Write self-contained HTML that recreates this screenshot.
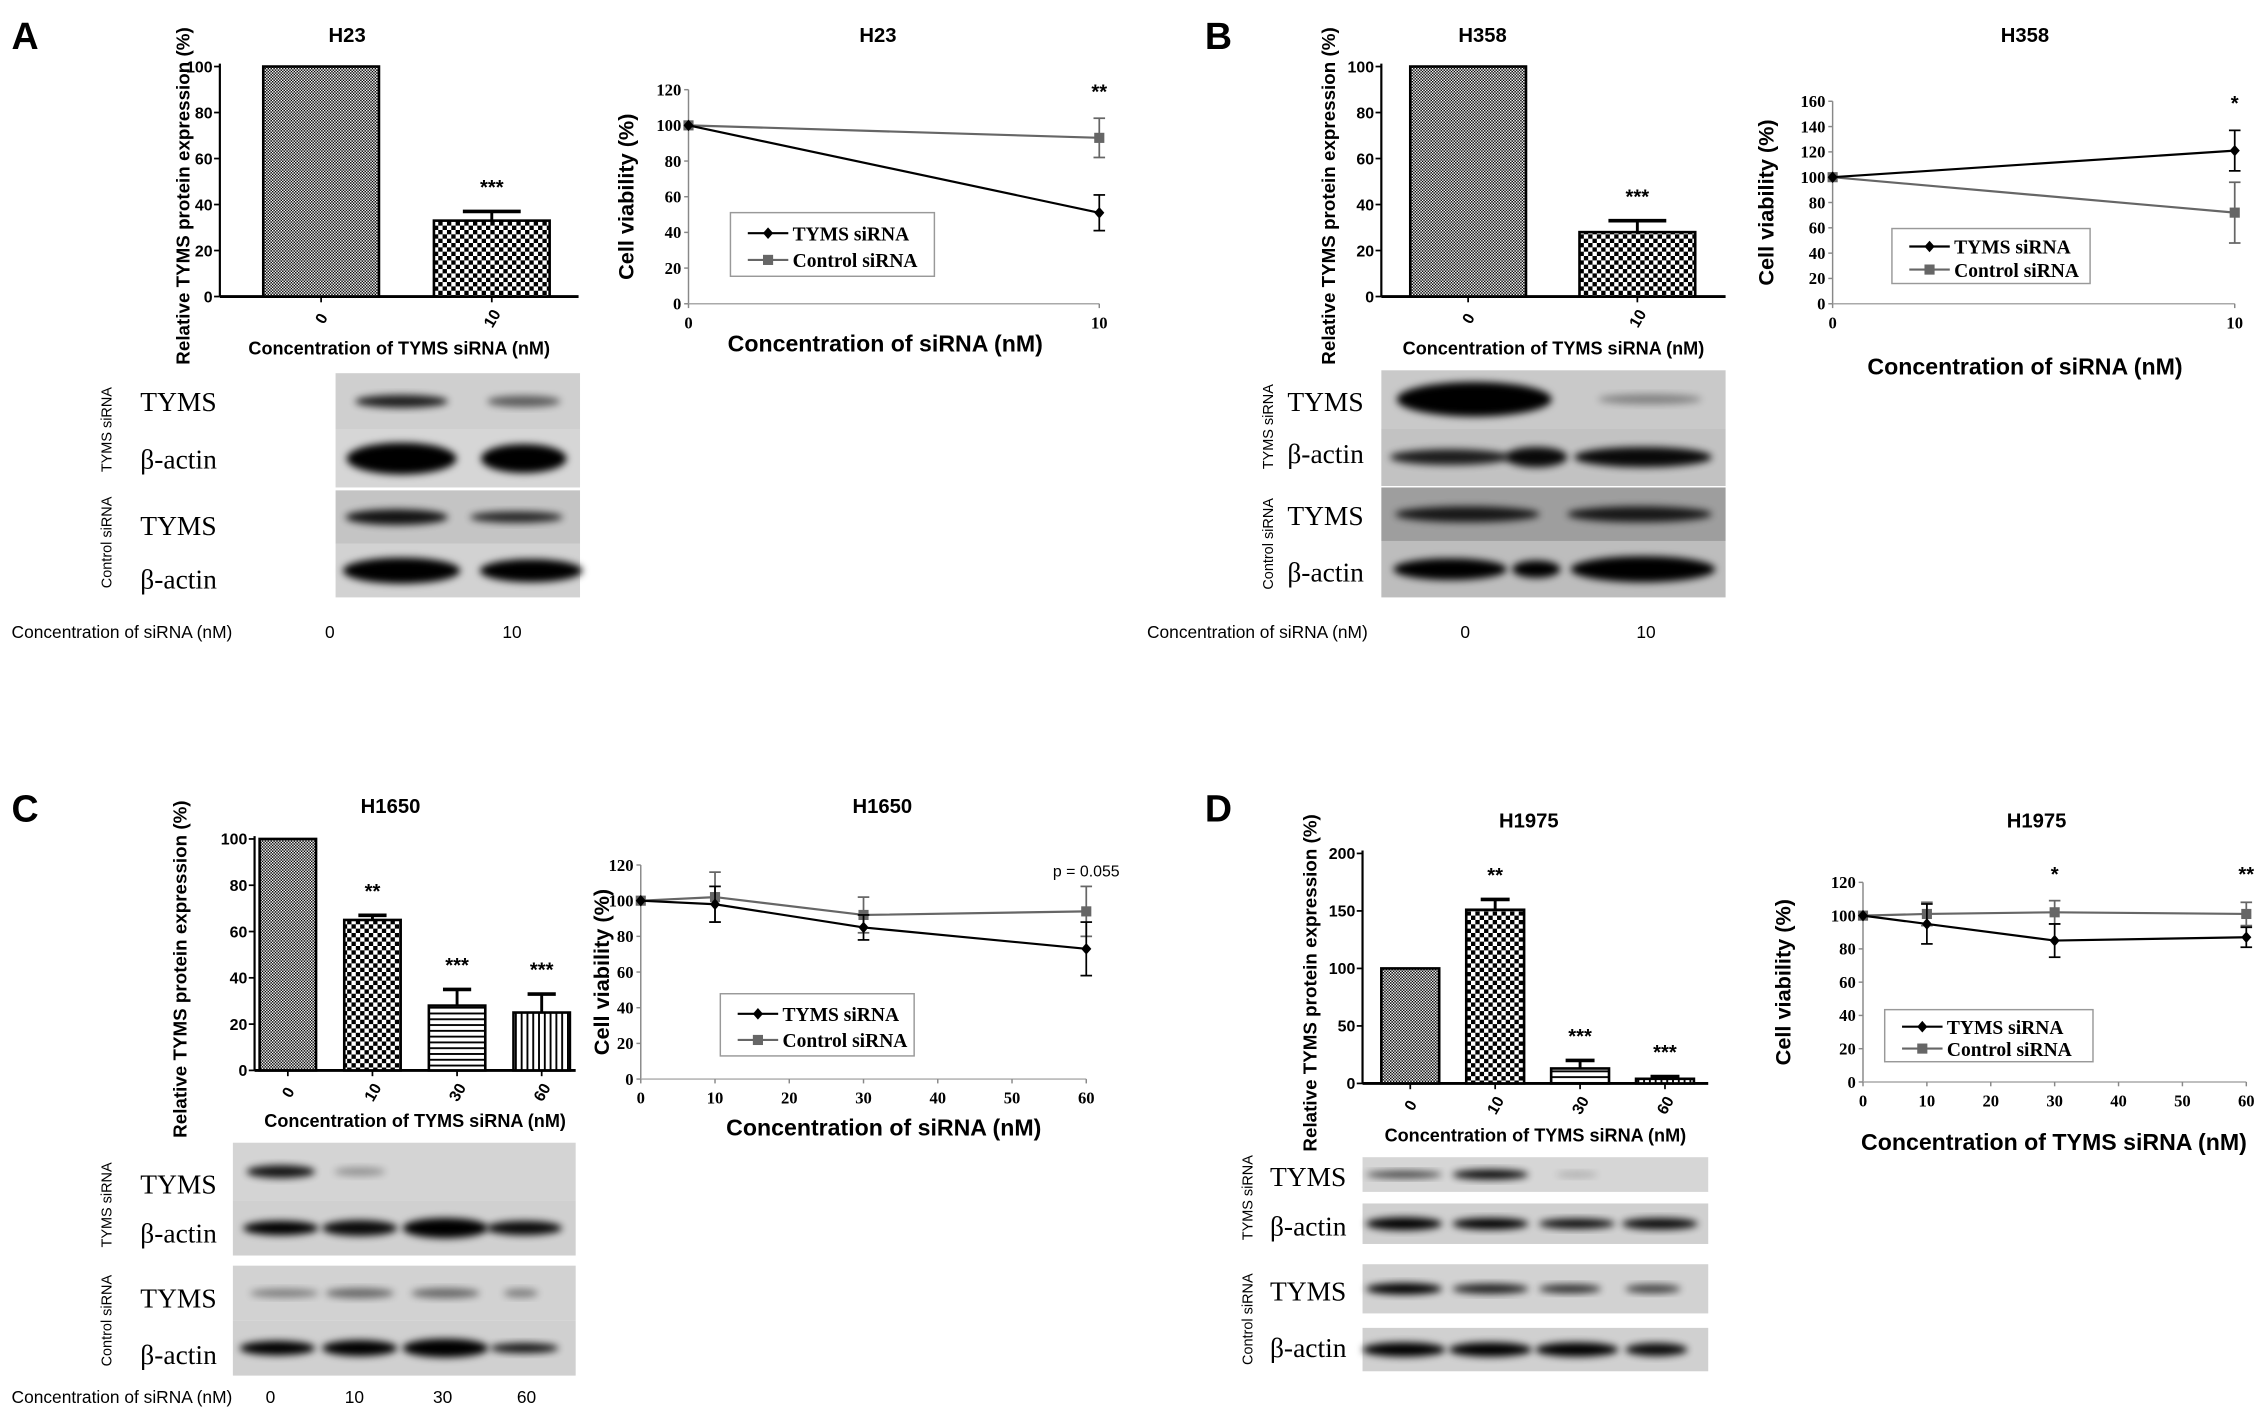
<!DOCTYPE html>
<html><head><meta charset="utf-8">
<style>
html,body{margin:0;padding:0;background:#fff;}
svg{display:block;}
.sans{font-family:"Liberation Sans",Arial,sans-serif;}
.serif{font-family:"Liberation Serif","Times New Roman",serif;}
</style></head>
<body>
<svg id="fig" width="2268" height="1419" viewBox="0 0 1568 981" preserveAspectRatio="none" xmlns="http://www.w3.org/2000/svg">
<defs>
<pattern id="pFine" width="2" height="2" patternUnits="userSpaceOnUse"><rect width="2" height="2" fill="#fff"/><rect width="1" height="1" fill="#000"/><rect x="1" y="1" width="1" height="1" fill="#000"/></pattern>
<pattern id="pCheck" width="6" height="6" patternUnits="userSpaceOnUse"><rect width="6" height="6" fill="#fff"/><rect width="3" height="3" fill="#000"/><rect x="3" y="3" width="3" height="3" fill="#000"/></pattern>
<pattern id="pHor" width="4" height="4" patternUnits="userSpaceOnUse"><rect width="4" height="4" fill="#fff"/><rect width="4" height="1.3" fill="#000"/></pattern>
<pattern id="pVer" width="4" height="4" patternUnits="userSpaceOnUse"><rect width="4" height="4" fill="#fff"/><rect width="1.3" height="4" fill="#000"/></pattern>
<filter id="blur" x="-20%" y="-50%" width="140%" height="200%"><feGaussianBlur stdDeviation="2.5"/></filter>
</defs>
</svg>
<script>
// ---- Panel A data ----
const A_barCats=['0','10'];
const A_barVals=[100,33];
const A_barErr=[0,4];
const A_barStars=['','***'];
const A_lineX=[0,10];
const A_tyms=[100,51];
const A_tymsErr=[0,10];
const A_ctrl=[100,93];
const A_ctrlErr=[0,11];
const A_lineStars=['','**'];
// ---- Panel B data ----
const B_barCats=['0','10'];
const B_barVals=[100,28];
const B_barErr=[0,5];
const B_barStars=['','***'];
const B_lineX=[0,10];
const B_tyms=[100,121];
const B_tymsErr=[0,16];
const B_ctrl=[100,72];
const B_ctrlErr=[0,24];
const B_lineStars=['','*'];
// ---- Panel C data ----
const C_barCats=['0','10','30','60'];
const C_barVals=[100,65,28,25];
const C_barErr=[0,2,7,8];
const C_barStars=['','**','***','***'];
const C_lineX=[0,10,30,60];
const C_tyms=[100,98,85,73];
const C_tymsErr=[1,10,7,15];
const C_ctrl=[100,102,92,94];
const C_ctrlErr=[1,14,10,14];
const C_lineStars=['','','','p = 0.055'];
// ---- Panel D data ----
const D_barCats=['0','10','30','60'];
const D_barVals=[100,151,13,4];
const D_barErr=[0,9,7,2];
const D_barStars=['','**','***','***'];
const D_lineX=[0,10,30,60];
const D_tyms=[100,95,85,87];
const D_tymsErr=[1,12,10,6];
const D_ctrl=[100,101,102,101];
const D_ctrlErr=[1,7,7,7];
const D_lineStars=['','','*','**'];

const svg=document.getElementById('fig');
const NS='http://www.w3.org/2000/svg';
function el(tag,attrs,parent,text){const e=document.createElementNS(NS,tag);for(const k in attrs)e.setAttribute(k,attrs[k]);if(text!==undefined)e.textContent=text;(parent||svg).appendChild(e);return e;}

function barChart(g,c){
  const ys=v=>c.y0-(v/c.ymax)*(c.y0-c.yTop);
  let ax=el('line',{x1:c.ax,y1:c.yTop-2,x2:c.ax,y2:c.y0,stroke:'#000','stroke-width':1.5},g);
  
  let bx=el('line',{x1:c.ax,y1:c.y0,x2:c.xEnd,y2:c.y0,stroke:'#000','stroke-width':2},g);
  
  for(let v=0;v<=c.ymax;v+=c.step){
    const y=ys(v);
    el('line',{x1:c.ax-4,y1:y,x2:c.ax,y2:y,stroke:'#000','stroke-width':1.2},g);
    let t=el('text',{x:c.ax-5,y:y+4,'text-anchor':'end','font-size':11,'font-weight':'bold',class:'sans'},g,String(v));
    
  }
  c.vals.forEach((v,i)=>{
    const cx=c.c0+i*c.sp, x=cx-c.bw/2, y=ys(v);
    if(c.errs[i]>0){
      const ye=ys(v+c.errs[i]);
      el('line',{x1:cx,y1:y,x2:cx,y2:ye,stroke:'#000','stroke-width':2},g);
      el('line',{x1:cx-c.bw/4,y1:ye,x2:cx+c.bw/4,y2:ye,stroke:'#000','stroke-width':2.5},g);
    }
    let r=el('rect',{x:x,y:y,width:c.bw,height:c.y0-y,fill:'url(#'+c.pats[i]+')',stroke:'#000','stroke-width':1.8},g);
    
    el('line',{x1:cx,y1:c.y0,x2:cx,y2:c.y0+4,stroke:'#000','stroke-width':1.2},g);
    let lt=el('text',{x:cx,y:c.y0+19,'text-anchor':'middle','font-size':11,'font-weight':'bold',class:'sans',transform:'rotate(-60 '+cx+' '+(c.y0+15)+')'},g,c.cats[i]);
    
    if(c.stars[i]){
      const ye=ys(v+c.errs[i]);
      let s=el('text',{x:cx,y:ye-12,'text-anchor':'middle','font-size':14,'font-weight':'bold',class:'sans'},g,c.stars[i]);
      
    }
  });
  let tt=el('text',{x:c.tx,y:c.ty,'text-anchor':'middle','font-size':14,'font-weight':'bold',class:'sans'},g,c.title);
  
  let yt=el('text',{x:0,y:0,'text-anchor':'middle','font-size':13,'font-weight':'bold',class:'sans',transform:'translate('+c.ytx+','+((c.yTop+c.y0)/2+10)+') rotate(-90)'},g,'Relative TYMS protein expression (%)');
  
  let xt=el('text',{x:(c.ax+c.xEnd)/2,y:c.xty,'text-anchor':'middle','font-size':12.5,'font-weight':'bold',class:'sans'},g,'Concentration of TYMS siRNA (nM)');
  
}

function lineChart(g,c){
  const xs=v=>c.ax+(v-0)/(c.xmax)*(c.xEndV-c.ax);
  const ys=v=>c.y0-(v/c.ymax)*(c.y0-c.yTop);
  let ax=el('line',{x1:c.ax,y1:c.yTop,x2:c.ax,y2:c.y0,stroke:'#888','stroke-width':1},g);
  
  let bx=el('line',{x1:c.ax,y1:c.y0,x2:c.xEndV,y2:c.y0,stroke:'#aaa','stroke-width':1},g);
  
  for(let v=0;v<=c.ymax;v+=20){
    const y=ys(v);
    el('line',{x1:c.ax-3,y1:y,x2:c.ax,y2:y,stroke:'#888','stroke-width':1},g);
    let t=el('text',{x:c.ax-5,y:y+4,'text-anchor':'end','font-size':11.5,'font-weight':'bold',class:'serif'},g,String(v));
    
  }
  c.ticks.forEach(v=>{
    const x=xs(v);
    el('line',{x1:x,y1:c.y0,x2:x,y2:c.y0+3,stroke:'#888','stroke-width':1},g);
    let t=el('text',{x:x,y:c.y0+17,'text-anchor':'middle','font-size':11.5,'font-weight':'bold',class:'serif'},g,String(v));
    
  });
  const series=[[c.ctrl,c.ctrlErr,'#666','sq','control-siRNA'],[c.tyms,c.tymsErr,'#000','di','tyms-siRNA']];
  series.forEach(([vals,errs,col,mk,nm])=>{
    let pts=vals.map((v,i)=>xs(c.xv[i])+','+ys(v)).join(' ');
    let pl=el('polyline',{points:pts,fill:'none',stroke:col,'stroke-width':1.5},g);
    
    vals.forEach((v,i)=>{
      const x=xs(c.xv[i]),y=ys(v);
      if(errs[i]>1){
        const y1=ys(v+errs[i]),y2=ys(v-errs[i]);
        el('line',{x1:x,y1:y1,x2:x,y2:y2,stroke:col,'stroke-width':1.2},g);
        el('line',{x1:x-4,y1:y1,x2:x+4,y2:y1,stroke:col,'stroke-width':1.2},g);
        el('line',{x1:x-4,y1:y2,x2:x+4,y2:y2,stroke:col,'stroke-width':1.2},g);
      }
      let m;
      if(mk==='sq')m=el('rect',{x:x-3.5,y:y-3.5,width:7,height:7,fill:col},g);
      else m=el('polygon',{points:(x)+','+(y-4)+' '+(x+3.5)+','+y+' '+x+','+(y+4)+' '+(x-3.5)+','+y,fill:col},g);
      
    });
  });
  c.stars.forEach((s,i)=>{
    if(!s)return;
    let t=el('text',{x:xs(c.xv[i]),y:c.starY,'text-anchor':'middle','font-size':s.length>3?11:14,'font-weight':s.length>3?'normal':'bold',class:'sans'},g,s);
    
  });
  const L=c.leg;
  let lg=el('g',{},g);
  el('rect',{x:L[0],y:L[1],width:L[2],height:L[3],fill:'#fff',stroke:'#999','stroke-width':1},lg);
  const ent=[['TYMS siRNA','#000','di'],['Control siRNA','#666','sq']];
  ent.forEach(([t,col,mk],i)=>{
    const y=L[1]+L[3]*(0.3+0.42*i)+1, x=L[0]+12;
    let e=el('g',{},lg);
    el('line',{x1:x,y1:y,x2:x+28,y2:y,stroke:col,'stroke-width':1.5},e);
    if(mk==='sq')el('rect',{x:x+10.5,y:y-3.5,width:7,height:7,fill:col},e);
    else el('polygon',{points:(x+14)+','+(y-4)+' '+(x+17.5)+','+y+' '+(x+14)+','+(y+4)+' '+(x+10.5)+','+y,fill:col},e);
    el('text',{x:x+31,y:y+5,'font-size':13.5,'font-weight':'bold',class:'serif'},e,t);
  });
  let tt=el('text',{x:c.tx,y:c.ty,'text-anchor':'middle','font-size':14,'font-weight':'bold',class:'sans'},g,c.title);
  
  let yt=el('text',{x:0,y:0,'text-anchor':'middle','font-size':15,'font-weight':'bold',class:'sans',transform:'translate('+c.ytx+','+((c.yTop+c.y0)/2)+') rotate(-90)'},g,'Cell viability (%)');
  
  let xt=el('text',{x:c.xtx,y:c.xty,'text-anchor':'middle','font-size':16,'font-weight':'bold',class:'sans'},g,c.xtitle);
  
}

function blot(g,x,y,w,h,bg,bands,name){
  let b=el('g',{},g);
  el('rect',{x:x,y:y,width:w,height:h,fill:bg},b);
  bands.forEach(([cx,bw,bh,op])=>{
    el('ellipse',{cx:x+cx*w,cy:y+h/2,rx:bw*w/2,ry:bh/2,fill:'#000',opacity:op,filter:'url(#blur)'},b);
  });
}
function blotLabels(g,lx,rows,vx,vlabels,bottom){
  rows.forEach(([t,y])=>{
    let e=el('text',{x:lx,y:y,'font-size':19,class:'serif'},g,t);
    
  });
  vlabels.forEach(([t,cy])=>{
    let e=el('text',{x:0,y:0,'text-anchor':'middle','font-size':10,class:'sans',transform:'translate('+vx+','+cy+') rotate(-90)'},g,t);
    
  });
  if(bottom){
    let e=el('text',{x:bottom[0],y:bottom[1],'font-size':12,class:'sans'},g,'Concentration of siRNA (nM)');
    
    bottom[2].forEach(([t,x])=>{let n=el('text',{x:x,y:bottom[1],'text-anchor':'middle','font-size':12,class:'sans'},g,t);
      });
  }
}
function panelLetter(t,x,y){let e=el('text',{x:x,y:y,'font-size':26,'font-weight':'bold',class:'sans'},svg,t);
  }

// Panel A
panelLetter('A',8,34);
let gA=el('g',{});
barChart(gA,{ax:152,xEnd:400,yTop:46,y0:205,ymax:100,step:20,c0:222,sp:118,bw:80,vals:A_barVals,errs:A_barErr,cats:A_barCats,stars:A_barStars,pats:['pFine','pCheck'],title:'H23',tx:240,ty:29,ytx:131,xty:245});
lineChart(gA,{ax:476,xEndV:760,xmax:10,yTop:62,y0:210,ymax:120,ticks:[0,10],xv:A_lineX,tyms:A_tyms,tymsErr:A_tymsErr,ctrl:A_ctrl,ctrlErr:A_ctrlErr,stars:A_lineStars,starY:68,leg:[505,147,141,44],title:'H23',tx:607,ty:29,ytx:438,xtx:612,xty:243,xtitle:'Concentration of siRNA (nM)'});
blot(gA,232,258,169,39,'#cfcfcf',[[0.27,0.38,9,0.85],[0.77,0.3,8,0.55]],'western-blot-tyms-sirna-tyms');
blot(gA,232,297,169,40,'#d6d6d6',[[0.27,0.45,22,1],[0.77,0.35,20,1]],'western-blot-tyms-sirna-actin');
blot(gA,232,339,169,37,'#c4c4c4',[[0.25,0.42,11,0.9],[0.74,0.38,8,0.8]],'western-blot-control-sirna-tyms');
blot(gA,232,376,169,37,'#d2d2d2',[[0.27,0.48,18,1],[0.8,0.42,16,1]],'western-blot-control-sirna-actin');
blotLabels(gA,97,[['TYMS',284],['β-actin',324],['TYMS',370],['β-actin',407]],77,[['TYMS siRNA',297],['Control siRNA',375]],[8,441,[['0',228],['10',354]]]);

// Panel B
panelLetter('B',833,34);
let gB=el('g',{});
barChart(gB,{ax:955,xEnd:1193,yTop:46,y0:205,ymax:100,step:20,c0:1015,sp:117,bw:80,vals:B_barVals,errs:B_barErr,cats:B_barCats,stars:B_barStars,pats:['pFine','pCheck'],title:'H358',tx:1025,ty:29,ytx:923,xty:245});
lineChart(gB,{ax:1267,xEndV:1545,xmax:10,yTop:70,y0:210,ymax:160,ticks:[0,10],xv:B_lineX,tyms:B_tyms,tymsErr:B_tymsErr,ctrl:B_ctrl,ctrlErr:B_ctrlErr,stars:B_lineStars,starY:76,leg:[1308,158,137,38],title:'H358',tx:1400,ty:29,ytx:1226,xtx:1400,xty:259,xtitle:'Concentration of siRNA (nM)'});
blot(gB,955,256,238,40,'#c9c9c9',[[0.27,0.45,24,1],[0.78,0.3,7,0.35]],'western-blot-tyms-sirna-tyms');
blot(gB,955,296,238,40,'#c2c2c2',[[0.2,0.35,11,0.85],[0.45,0.18,14,0.95],[0.76,0.4,14,0.95]],'western-blot-tyms-sirna-actin');
blot(gB,955,337,238,37,'#9e9e9e',[[0.25,0.42,11,0.85],[0.75,0.42,11,0.85]],'western-blot-control-sirna-tyms');
blot(gB,955,374,238,39,'#bdbdbd',[[0.2,0.33,15,1],[0.45,0.14,12,1],[0.76,0.42,18,1]],'western-blot-control-sirna-actin');
blotLabels(gB,890,[['TYMS',284],['β-actin',320],['TYMS',363],['β-actin',402]],880,[['TYMS siRNA',295],['Control siRNA',376]],[793,441,[['0',1013],['10',1138]]]);

// Panel C
panelLetter('C',8,568);
let gC=el('g',{});
barChart(gC,{ax:176,xEnd:398,yTop:580,y0:740,ymax:100,step:20,c0:199,sp:58.5,bw:39,vals:C_barVals,errs:C_barErr,cats:C_barCats,stars:C_barStars,pats:['pFine','pCheck','pHor','pVer'],title:'H1650',tx:270,ty:562,ytx:129,xty:779});
lineChart(gC,{ax:443,xEndV:751,xmax:60,yTop:598,y0:746,ymax:120,ticks:[0,10,20,30,40,50,60],xv:C_lineX,tyms:C_tyms,tymsErr:C_tymsErr,ctrl:C_ctrl,ctrlErr:C_ctrlErr,stars:C_lineStars,starY:606,leg:[498,687,134,43],title:'H1650',tx:610,ty:562,ytx:421,xtx:611,xty:785,xtitle:'Concentration of siRNA (nM)'});
blot(gC,161,790,237,40,'#d4d4d4',[[0.14,0.2,9,0.9],[0.37,0.15,6,0.3]],'western-blot-tyms-sirna-tyms');
blot(gC,161,830,237,38,'#d0d0d0',[[0.14,0.22,10,1],[0.37,0.22,11,0.95],[0.62,0.25,14,1],[0.85,0.22,10,0.95]],'western-blot-tyms-sirna-actin');
blot(gC,161,875,237,38,'#d2d2d2',[[0.15,0.2,6,0.4],[0.37,0.2,7,0.5],[0.62,0.2,7,0.5],[0.84,0.1,6,0.4]],'western-blot-control-sirna-tyms');
blot(gC,161,913,237,38,'#d0d0d0',[[0.13,0.22,10,1],[0.37,0.22,11,1],[0.62,0.25,13,1],[0.85,0.2,7,0.9]],'western-blot-control-sirna-actin');
blotLabels(gC,97,[['TYMS',825],['β-actin',859],['TYMS',904],['β-actin',943]],77,[['TYMS siRNA',833],['Control siRNA',913]],[8,970,[['0',187],['10',245],['30',306],['60',364]]]);

// Panel D
panelLetter('D',833,568);
let gD=el('g',{});
barChart(gD,{ax:942,xEnd:1181,yTop:590,y0:749,ymax:200,step:50,c0:975,sp:58.7,bw:40,vals:D_barVals,errs:D_barErr,cats:D_barCats,stars:D_barStars,pats:['pFine','pCheck','pHor','pVer'],title:'H1975',tx:1057,ty:572,ytx:910,xty:789});
lineChart(gD,{ax:1288,xEndV:1553,xmax:60,yTop:610,y0:748,ymax:120,ticks:[0,10,20,30,40,50,60],xv:D_lineX,tyms:D_tyms,tymsErr:D_tymsErr,ctrl:D_ctrl,ctrlErr:D_ctrlErr,stars:D_lineStars,starY:609,leg:[1303,698,144,36],title:'H1975',tx:1408,ty:572,ytx:1238,xtx:1420,xty:795,xtitle:'Concentration of  TYMS siRNA (nM)'});
blot(gD,942,800,239,24,'#d6d6d6',[[0.12,0.22,5,0.7],[0.37,0.22,7,0.95],[0.62,0.12,4,0.2]],'western-blot-tyms-sirna-tyms');
blot(gD,942,832,239,28,'#d0d0d0',[[0.12,0.22,9,1],[0.37,0.22,8,1],[0.62,0.22,7,0.95],[0.86,0.22,8,0.95]],'western-blot-tyms-sirna-actin');
blot(gD,942,874,239,34,'#d2d2d2',[[0.12,0.22,8,1],[0.37,0.22,7,0.85],[0.6,0.18,6,0.8],[0.84,0.16,6,0.7]],'western-blot-control-sirna-tyms');
blot(gD,942,918,239,30,'#d0d0d0',[[0.12,0.24,10,1],[0.37,0.24,10,1],[0.62,0.24,10,1],[0.85,0.18,9,0.95]],'western-blot-control-sirna-actin');
blotLabels(gD,878,[['TYMS',820],['β-actin',854],['TYMS',899],['β-actin',938]],866,[['TYMS siRNA',828],['Control siRNA',912]],null);
</script>
</body></html>
